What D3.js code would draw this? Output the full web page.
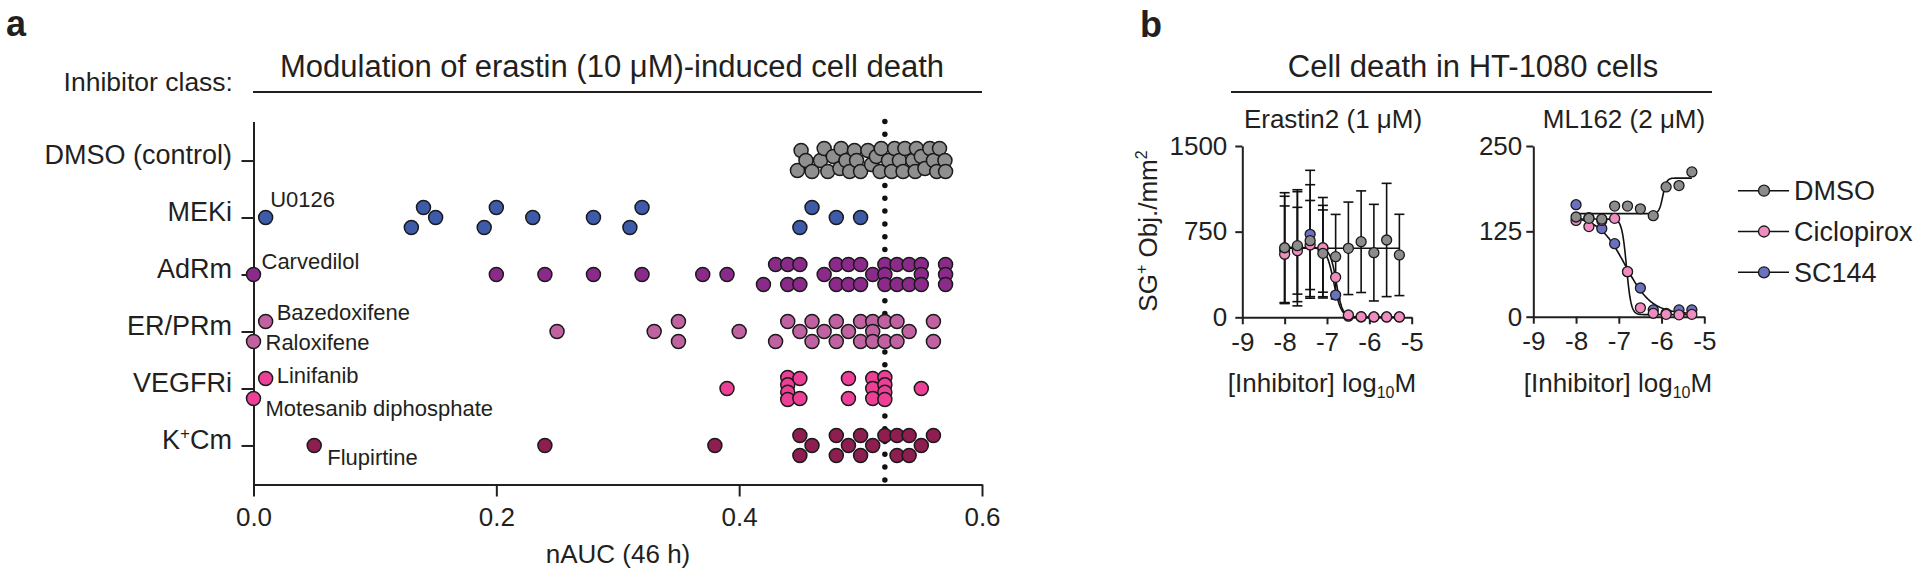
<!DOCTYPE html>
<html><head><meta charset="utf-8">
<script src="https://cdn.jsdelivr.net/npm/d3@7"></script>
<style>
html,body{margin:0;padding:0;background:#fff;}
svg text{font-family:"Liberation Sans",Arial,Helvetica,sans-serif;fill:#231f20;}
</style></head><body>
<svg id="chart" width="1920" height="576"></svg>
<script>
// ---------------- DATA: panel a ----------------
const classNames = ["DMSO (control)", "MEKi", "AdRm", "ER/PRm", "VEGFRi", "KCm"];
const dmsoAUC = [0.448,0.451,0.455,0.460,0.467,0.470,0.473,0.4775,0.483,0.484,0.488,0.491,0.495,0.4967,0.500,0.506,0.509,0.513,0.516,0.517,0.523,0.5255,0.528,0.532,0.535,0.5365,0.543,0.545,0.546,0.550,0.553,0.557,0.560,0.5627,0.565,0.5695,0.570];
const mekiAUC = [0.01,0.13,0.14,0.15,0.19,0.20,0.23,0.28,0.31,0.32,0.45,0.46,0.48,0.50];
const adrmAUC = [0.00,0.20,0.24,0.28,0.32,0.37,0.39,0.42,0.43,0.44,0.44,0.45,0.45,0.47,0.48,0.48,0.49,0.49,0.50,0.50,0.51,0.52,0.52,0.52,0.53,0.53,0.54,0.54,0.55,0.55,0.55,0.57,0.57,0.57];
const erprmAUC = [0.00,0.01,0.25,0.33,0.35,0.35,0.40,0.43,0.44,0.45,0.46,0.46,0.47,0.48,0.48,0.49,0.50,0.50,0.51,0.51,0.51,0.52,0.52,0.53,0.53,0.54,0.56,0.56];
const vegfrAUC = [0.00,0.01,0.39,0.44,0.44,0.44,0.44,0.45,0.45,0.49,0.49,0.51,0.51,0.51,0.52,0.52,0.52,0.52,0.55];
const kcmAUC = [0.05,0.24,0.38,0.45,0.45,0.46,0.48,0.48,0.49,0.50,0.50,0.51,0.52,0.53,0.53,0.54,0.54,0.55,0.56];
const aucTicks = [0, 0.2, 0.4, 0.6];
const controlLine = 0.52;
const annotLabels = ["U0126","Carvedilol","Bazedoxifene","Raloxifene","Linifanib","Motesanib diphosphate","Flupirtine"];
const annotClass = [1,2,3,3,4,4,5];
const annotValue = [0.01,0.00,0.01,0.00,0.01,0.00,0.05];

// ---------------- DATA: panel b ----------------
const logConc = [-8,-7.699,-7.398,-7.097,-6.796,-6.495,-6.194,-5.893,-5.592,-5.291];
const seriesNames = ["DMSO","Ciclopirox","SC144"];
const erDMSO = [609,627,671,560,531,604,662,566,677,546];
const erDMSOsd = [482,490,490,380,370,405,445,423,496,356];
const erCiclo = [552,583,633,609,350,20,5,3,3,3];
const erCiclosd = [423,380,390,440,0,0,0,0,0,0];
const erSC144 = [590,600,727,600,195,10,3,3,3,3];
const erSC144sd = [470,500,560,380,0,0,0,0,0,0];
const mlDMSO = [146,144,143,162,162,158,148,190,192,212];
const mlCiclo = [141,132,141,144,66,13,5,3.5,2.7,3.5];
const mlSC144 = [164,145,129,107,66,42,10,5,10,10];
// fitted 4-parameter logistic curves: [start, end, logMid, slope]
const erFitDMSO = [604,604,-6.5,1];
const erFitCiclo = [605,2,-6.78,6];
const erFitSC144 = [612,0,-6.84,5];
const mlFitDMSO = [151,203,-5.97,10];
const mlFitCiclo = [143,3,-6.82,8];
const mlFitSC144 = [147,4,-6.85,1.4];
const erTicksY = [0,750,1500];
const mlTicksY = [0,125,250];
const logTicks = [-9,-8,-7,-6,-5];

// ---------------- styles ----------------
const classColors = ["#8f8f8f","#3d5ba8","#8b2a8a","#c062a1","#ec3f95","#8e1d50"];
const seriesColors = ["#8c8c8c","#f08cbf","#6a72bf"];
const ink = "#231f20";
const FONT = '"Liberation Sans",Arial,Helvetica,sans-serif';

const svg = d3.select("#chart");

// ================= PANEL A =================
const xA = d3.scaleLinear().domain([0,0.6]).range([253.5,982]);
const yA = d3.scalePoint().domain(classNames).range([121.5,484.5]).padding(0.685);
const gA = svg.append("g");

svg.append("text").attr("x",6).attr("y",36).attr("font-size",36).attr("font-weight","bold").text("a");
svg.append("text").attr("x",233).attr("y",91).attr("font-size",26.5).attr("text-anchor","end").text("Inhibitor class:");
svg.append("text").attr("x",612).attr("y",77).attr("font-size",31).attr("text-anchor","middle").text("Modulation of erastin (10 μM)-induced cell death");
svg.append("line").attr("x1",253).attr("x2",982).attr("y1",92).attr("y2",92).attr("stroke",ink).attr("stroke-width",2);

// dotted control line
gA.append("line").attr("x1",xA(controlLine)).attr("x2",xA(controlLine)).attr("y1",121.5).attr("y2",484)
  .attr("stroke","#111").attr("stroke-width",5.5).attr("stroke-linecap","round").attr("stroke-dasharray","0,12.8");

// axes
const xAxisA = gA.append("g").attr("transform","translate(0,484.5)")
  .call(d3.axisBottom(xA).tickValues(aucTicks).tickSize(12).tickSizeOuter(0).tickPadding(11).tickFormat(d3.format(".1f")));
xAxisA.attr("font-family",FONT).attr("font-size",26).attr("color",ink);
xAxisA.selectAll("path,line").attr("stroke-width",2);

const yAxisA = gA.append("g").attr("transform","translate(253.5,0)")
  .call(d3.axisLeft(yA).tickSize(12).tickSizeOuter(0).tickFormat(""));
yAxisA.attr("color",ink);
yAxisA.selectAll("path,line").attr("stroke-width",2);

classNames.forEach((name,i)=>{
  const t = gA.append("text").attr("x",232).attr("y",yA(name)+3.5).attr("font-size",27).attr("text-anchor","end");
  if (name === "KCm") {
    t.append("tspan").text("K");
    t.append("tspan").attr("font-size",17).attr("dy",-10).text("+");
    t.append("tspan").attr("dy",10).text("Cm");
  } else t.text(name);
});

gA.append("text").attr("x",618).attr("y",563).attr("font-size",26).attr("text-anchor","middle").text("nAUC (46 h)");

// swarm layout (Prism-like scatter dot plot)
function swarm(values, x) {
  const sorted = values.slice().sort((a,b)=>a-b);
  const groups = d3.groups(sorted, v=>v);
  const placed = [];
  const D = 13;
  const minDist = (px, off, excl) => {
    let m = Infinity;
    for (const p of placed) if (p !== excl) m = Math.min(m, Math.hypot(p.px-px, p.off-off));
    return m;
  };
  for (const [v, arr] of groups) {
    const px = x(v), n = arr.length;
    if (n === 1) {
      const col0 = placed.filter(p => Math.hypot(p.px-px, p.off) < D);
      if (col0.length === 0) { placed.push({v,px,off:0,single:true}); continue; }
      if (col0.length === 1) {
        const p = col0[0];
        if (p.single && p.off === 0 && !p.paired && minDist(p.px,10,p) >= D && minDist(px,-10,p) >= D) {
          p.off = 10; p.paired = true;
          placed.push({v,px,off:-10,single:true,paired:true});
          continue;
        }
      }
      let best = null;
      for (const c of [-10,10]) { if (minDist(px,c,null) >= D) { best = c; break; } }
      if (best === null) {
        let bestD = -1;
        for (const c of [-12,-8,-4,0,4,8,11]) {
          const d = minDist(px,c,null);
          if (d > bestD + 0.5) { bestD = d; best = c; }
        }
      }
      placed.push({v,px,off:best,single:true});
    } else {
      const offs = n===2 ? [10,-10] : n===3 ? [-10,0,10] : d3.range(n).map(i=>-11+22*i/(n-1));
      offs.forEach(o=>placed.push({v,px,off:o,single:false}));
    }
  }
  return placed;
}

const allAUC = [dmsoAUC, mekiAUC, adrmAUC, erprmAUC, vegfrAUC, kcmAUC];
const layouts = allAUC.map(vals => swarm(vals, xA));
layouts.forEach((pts,i)=>{
  const cy = yA(classNames[i]);
  gA.append("g").selectAll("circle").data(pts).join("circle")
    .attr("cx",d=>d.px).attr("cy",d=>cy+d.off).attr("r",7)
    .attr("fill",classColors[i]).attr("stroke","#1a1a1a").attr("stroke-width",1.5);
});

// annotations
const labelOffsets = [[4.5,-10.5],[8,-6],[11,-1.7],[12,9],[11,4.7],[12,18],[13,20]];
annotLabels.forEach((lab,k)=>{
  const ci = annotClass[k];
  const p = layouts[ci].find(d=>d.v===annotValue[k]);
  const cy = yA(classNames[ci]) + p.off;
  gA.append("text").attr("x",p.px+labelOffsets[k][0]).attr("y",cy+labelOffsets[k][1])
    .attr("font-size",22).text(lab);
});

// ================= PANEL B =================
svg.append("text").attr("x",1140).attr("y",37).attr("font-size",36).attr("font-weight","bold").text("b");
svg.append("text").attr("x",1473).attr("y",77).attr("font-size",31).attr("text-anchor","middle").text("Cell death in HT-1080 cells");
svg.append("line").attr("x1",1231).attr("x2",1712).attr("y1",92).attr("y2",92).attr("stroke",ink).attr("stroke-width",2);

function logistic(p, x) { return p[1] + (p[0]-p[1])/(1+Math.pow(10, p[3]*(x-p[2]))); }

function doseplot(cfg) {
  const x = d3.scaleLinear().domain([-9,-5]).range(cfg.xr);
  const y = d3.scaleLinear().domain(cfg.ydom).range(cfg.yr);
  const g = svg.append("g");
  const xa = g.append("g").attr("transform",`translate(0,${cfg.yr[0]})`)
    .call(d3.axisBottom(x).tickValues(logTicks).tickSize(7).tickSizeOuter(0).tickPadding(8).tickFormat(d=>String(d)));
  const ya = g.append("g").attr("transform",`translate(${cfg.xr[0]},0)`)
    .call(d3.axisLeft(y).tickValues(cfg.yticks).tickSize(7).tickSizeOuter(0).tickPadding(cfg.ypad).tickFormat(d=>String(d)));
  [xa,ya].forEach(a=>{ a.attr("font-family",FONT).attr("font-size",26).attr("color",ink); a.selectAll("path,line").attr("stroke-width",2); });

  g.append("text").attr("x",cfg.titleX).attr("y",128).attr("font-size",26).attr("text-anchor","middle").text(cfg.title);
  const xl = g.append("text").attr("x",cfg.labelX).attr("y",391.7).attr("font-size",26).attr("text-anchor","middle");
  xl.append("tspan").text("[Inhibitor] log");
  xl.append("tspan").attr("font-size",16).attr("dy",6).text("10");
  xl.append("tspan").attr("dy",-6).text("M");

  // fitted curves
  const line = d3.line().x(d=>x(d[0])).y(d=>y(d[1]));
  const xs = d3.range(0,201).map(i=>logConc[0] + (logConc[logConc.length-1]-logConc[0])*i/200);
  cfg.fits.forEach(p=>{
    g.append("path").attr("d",line(xs.map(v=>[v,logistic(p,v)]))).attr("fill","none").attr("stroke","#111").attr("stroke-width",1.6);
  });
  // error bars
  cfg.sds.forEach((sd,s)=>{
    if (!sd) return;
    sd.forEach((e,i)=>{
      if (!e) return;
      const m = cfg.series[s][i], cx = x(logConc[i]);
      const y1 = y(m+e), y0 = y(Math.max(0,m-e));
      g.append("line").attr("x1",cx).attr("x2",cx).attr("y1",y1).attr("y2",y0).attr("stroke","#111").attr("stroke-width",1.6);
      g.append("line").attr("x1",cx-5).attr("x2",cx+5).attr("y1",y1).attr("y2",y1).attr("stroke","#111").attr("stroke-width",1.6);
      g.append("line").attr("x1",cx-5).attr("x2",cx+5).attr("y1",y0).attr("y2",y0).attr("stroke","#111").attr("stroke-width",1.6);
    });
  });
  // points: SC144, Ciclopirox, then DMSO on top
  [2,1,0].forEach(s=>{
    g.append("g").selectAll("circle").data(cfg.series[s]).join("circle")
      .attr("cx",(d,i)=>x(logConc[i])).attr("cy",d=>y(d)).attr("r",5)
      .attr("fill",seriesColors[s]).attr("stroke","#1a1a1a").attr("stroke-width",1.3);
  });
}

doseplot({xr:[1242.3,1411.7], yr:[317.3,146], ydom:[0,1500], yticks:erTicksY, ypad:8,
  title:"Erastin2 (1 μM)", titleX:1333, labelX:1322,
  series:[erDMSO,erCiclo,erSC144], sds:[erDMSOsd,erCiclosd,erSC144sd],
  fits:[erFitDMSO,erFitCiclo,erFitSC144]});
doseplot({xr:[1533.3,1704.3], yr:[316.7,146], ydom:[0,250], yticks:mlTicksY, ypad:4,
  title:"ML162 (2 μM)", titleX:1624, labelX:1618,
  series:[mlDMSO,mlCiclo,mlSC144], sds:[null,null,null],
  fits:[mlFitDMSO,mlFitCiclo,mlFitSC144]});

// y label
const yl = svg.append("text").attr("transform","translate(1157,231) rotate(-90)").attr("font-size",26).attr("text-anchor","middle");
yl.append("tspan").text("SG");
yl.append("tspan").attr("font-size",16).attr("dy",-10).text("+");
yl.append("tspan").attr("dy",10).text(" Obj./mm");
yl.append("tspan").attr("font-size",16).attr("dy",-10).text("2");

// legend
const legY = [190.7,231.5,272.3];
seriesNames.forEach((n,i)=>{
  const g = svg.append("g").attr("transform",`translate(0,${legY[i]})`);
  g.append("line").attr("x1",1738).attr("x2",1789).attr("stroke","#111").attr("stroke-width",1.6);
  g.append("circle").attr("cx",1764).attr("cy",0).attr("r",5.5).attr("fill",seriesColors[i]).attr("stroke","#1a1a1a").attr("stroke-width",1.3);
  g.append("text").attr("x",1794).attr("y",9.5).attr("font-size",27).text(n);
});
</script>
</body></html>
